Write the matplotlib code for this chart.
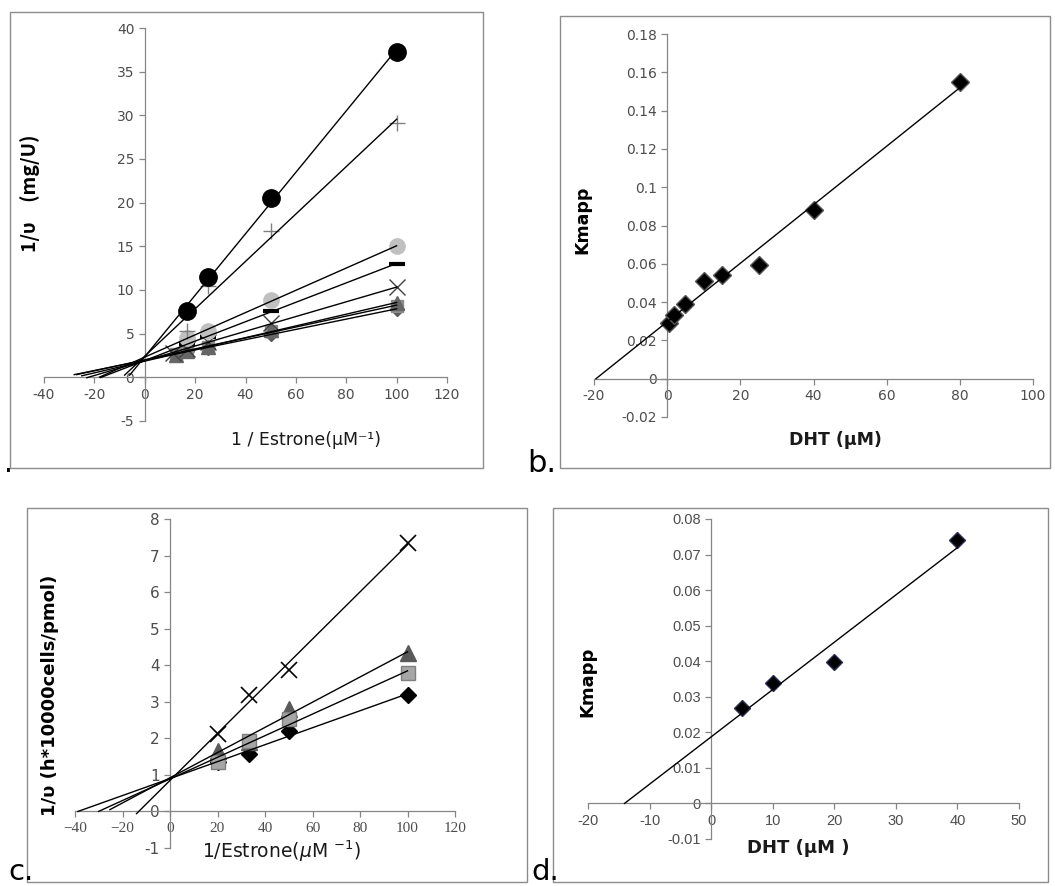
import numpy as np
import matplotlib.pyplot as plt
from matplotlib.patches import Rectangle
from matplotlib.ticker import FuncFormatter, MultipleLocator

W, H = 1055, 886

# panel a: 1/v vs 1/[estrone], several DHT levels
a_x_long = [12.5, 16.7, 25, 50, 100]
a_x_short = [16.7, 25, 50, 100]
a_x_cross = [11.1, 16.7, 25, 50, 100]
a_diamond = [2.6, 3.0, 3.4, 5.0, 7.8]
a_square = [2.7, 3.1, 3.5, 5.3, 8.2]
a_triangle = [2.6, 3.0, 3.5, 5.4, 8.5]
a_cross = [2.8, 3.3, 4.0, 6.2, 10.3]
a_dash = [3.8, 4.6, 7.6, 13.0]
a_gray_circle = [4.5, 5.3, 8.9, 15.0]
a_plus = [5.3, 10.5, 16.8, 29.1]
a_black_circle = [7.6, 11.5, 20.5, 37.3]
# where each trendline was forecast back to
a_line_start = [-28, -27, -25, -23, -17.5, -18, -8, -6]

# panel b: Kmapp vs DHT
b_dht = [0.5, 2, 5, 10, 15, 25, 40, 80]
b_kmapp = [0.029, 0.0334, 0.0392, 0.0508, 0.0543, 0.0592, 0.0883, 0.1548]

# panel c: cells, 1/v vs 1/[estrone]
c_x = [20, 33.3, 50, 100]
c_diamond = [1.35, 1.58, 2.2, 3.18]
c_triangle = [1.66, 1.9, 2.79, 4.34]
c_square = [1.34, 1.93, 2.52, 3.78]
c_cross = [2.11, 3.18, 3.87, 7.34]

# panel d: Kmapp vs DHT
d_dht = [5, 10, 20, 40]
d_kmapp = [0.0268, 0.034, 0.0399, 0.074]

AXIS_GRAY = '#868686'
LABEL_GRAY = '#4d4d4d'


def px_axes(fig, left, top, right, bottom):
    return fig.add_axes([left / W, 1 - bottom / H, (right - left) / W, (bottom - top) / H])


def frame(fig, left, top, right, bottom):
    fig.add_artist(Rectangle((left / W, 1 - bottom / H), (right - left) / W, (bottom - top) / H,
                             transform=fig.transFigure, fill=False, edgecolor='#8c8c8c', lw=1.0))


def fmt_g(v, pos):
    v = round(v, 4)
    if v == 0:
        return '0'
    return f"{v:g}"


def excel_axes(ax, xlim, ylim, xstep, ystep, labelsize=10):
    ax.set_xlim(*xlim)
    ax.set_ylim(*ylim)
    ax.spines['left'].set_position(('data', 0))
    ax.spines['bottom'].set_position(('data', 0))
    for s in ['top', 'right']:
        ax.spines[s].set_visible(False)
    for s in ['left', 'bottom']:
        ax.spines[s].set_color(AXIS_GRAY)
        ax.spines[s].set_linewidth(0.9)
    ax.xaxis.set_major_locator(MultipleLocator(xstep))
    ax.yaxis.set_major_locator(MultipleLocator(ystep))
    ax.xaxis.set_major_formatter(FuncFormatter(fmt_g))
    ax.yaxis.set_major_formatter(FuncFormatter(fmt_g))
    ax.tick_params(direction='out', length=4, width=0.9, color=AXIS_GRAY,
                   labelcolor=LABEL_GRAY, labelsize=labelsize)
    ax.patch.set_alpha(0)


def trendline(ax, x, y, x_start, zorder=5):
    m, b = np.polyfit(x, y, 1)
    if x_start is None:
        x_start = -b / m
    xs = np.array([x_start, max(x)])
    ax.plot(xs, m * xs + b, color='black', lw=1.0, zorder=zorder)


fig = plt.figure(figsize=(W / 100, H / 100), dpi=100)

# ---------------- panel a ----------------
frame(fig, 10, 12, 483, 468)
ax = px_axes(fig, 44, 28, 447, 421)
excel_axes(ax, (-40, 120), (-5, 40), 20, 5)

a_series = [
    (a_x_long, a_diamond, dict(marker='D', ms=7, color='#595959', mec='#595959')),
    (a_x_long, a_square, dict(marker='s', ms=9, color='#8c8c8c', mec='#8c8c8c')),
    (a_x_long, a_triangle, dict(marker='^', ms=10, color='#666666', mec='#666666')),
    (a_x_cross, a_cross, dict(marker='x', ms=11, mew=1.0, color='#404040')),
    (a_x_short, a_dash, dict(marker='_', ms=11, mew=3, color='black')),
    (a_x_short, a_gray_circle, dict(marker='o', ms=11, color='#c0c0c0', mec='#c0c0c0')),
    (a_x_short, a_plus, dict(marker='+', ms=12, mew=1.0, color='#808080')),
    (a_x_short, a_black_circle, dict(marker='o', ms=12.5, color='black', mec='black')),
]
for i, (xs, ys, style) in enumerate(a_series):
    ax.plot(xs, ys, ls='none', zorder=3 + i * 0.1, **style)
for (xs, ys, style), start in zip(a_series, a_line_start):
    trendline(ax, xs, ys, start)

fig.text(30 / W, 1 - 193 / H, '1/υ\u3000(mg/U)', rotation=90, ha='center', va='center',
         fontsize=14, fontweight='bold', family=['Noto Sans CJK SC', 'DejaVu Sans'])
fig.text(306 / W, 1 - 440 / H, '1 / Estrone(μM⁻¹)', ha='center', va='center',
         fontsize=12.5, color='#1a1a1a')
fig.text(4 / W, 1 - 472 / H, '.', ha='left', va='baseline', fontsize=20)

# ---------------- panel b ----------------
frame(fig, 560, 16, 1050, 468)
ax = px_axes(fig, 594, 34, 1033, 417)
excel_axes(ax, (-20, 100), (-0.02, 0.18), 20, 0.02)
ax.plot(b_dht, b_kmapp, ls='none', marker='D', ms=9, color='black', mec='#555555',
        mew=1.0, zorder=3)
trendline(ax, b_dht, b_kmapp, None)
fig.text(582 / W, 1 - 220 / H, 'Kmapp', rotation=90, ha='center', va='center',
         fontsize=12.5, fontweight='bold')
fig.text(835 / W, 1 - 440 / H, 'DHT (μM)', ha='center', va='center',
         fontsize=12.5, fontweight='bold', color='#1a1a1a')
fig.text(527 / W, 1 - 472 / H, 'b.', ha='left', va='baseline', fontsize=22)

# ---------------- panel c ----------------
frame(fig, 27, 508, 527, 882)
ax = px_axes(fig, 75, 519, 455, 848)
excel_axes(ax, (-40, 120), (-1, 8), 20, 1, labelsize=11)
ax.xaxis.set_major_formatter(FuncFormatter(lambda v, p: f"{int(round(v))}".replace('-', '\u2212')))
for lab in ax.get_xticklabels():
    lab.set_family('Liberation Serif')
ax.tick_params(axis='x', labelsize=11)

c_series = [
    (c_diamond, dict(marker='D', ms=8, color='black', mec='black'), -38.8),
    (c_triangle, dict(marker='^', ms=11, color='#595959', mec='#595959'), -25.3),
    (c_square, dict(marker='s', ms=10, color='#a6a6a6', mec='#7f7f7f', mew=1.0), -30.1),
    (c_cross, dict(marker='x', ms=11, mew=1.2, color='black'), -14.1),
]
for i, (ys, style, start) in enumerate(c_series):
    ax.plot(c_x, ys, ls='none', zorder=3 + i * 0.1, **style)
for ys, style, start in c_series:
    trendline(ax, c_x, ys, start)

fig.text(50 / W, 1 - 695 / H, '1/υ (h*10000cells/pmol)', rotation=90, ha='center', va='center',
         fontsize=13, fontweight='bold')
fig.text(281 / W, 1 - 851 / H, '1/Estrone($\\mu$M $^{-1}$)', ha='center', va='center',
         fontsize=13.5, color='#1a1a1a')
fig.text(8 / W, 1 - 880 / H, 'c.', ha='left', va='baseline', fontsize=21)

# ---------------- panel d ----------------
frame(fig, 553, 508, 1048, 882)
ax = px_axes(fig, 588, 519, 1019, 839)
excel_axes(ax, (-20, 50), (-0.01, 0.08), 10, 0.01, labelsize=10.5)
for lab in ax.get_xticklabels() + ax.get_yticklabels():
    lab.set_family('Liberation Sans')
ax.plot(d_dht, d_kmapp, ls='none', marker='D', ms=8.5, color='black', mec='#2b2b55',
        mew=1.0, zorder=3)
trendline(ax, d_dht, d_kmapp, None)
fig.text(587 / W, 1 - 682 / H, 'Kmapp', rotation=90, ha='center', va='center',
         fontsize=13, fontweight='bold')
fig.text(798 / W, 1 - 848 / H, 'DHT (μM )', ha='center', va='center',
         fontsize=13, fontweight='bold', color='#1a1a1a')
fig.text(531 / W, 1 - 880 / H, 'd.', ha='left', va='baseline', fontsize=21)

fig.savefig('out.png', dpi=100)
